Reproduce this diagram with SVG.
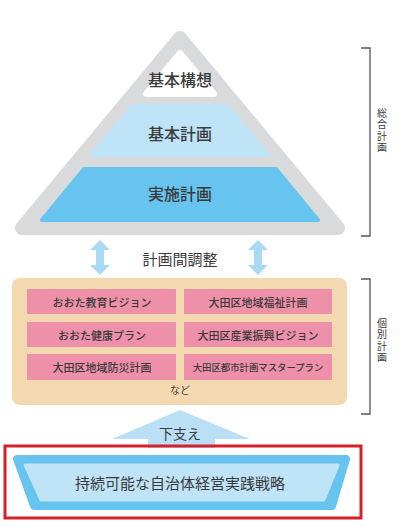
<svg xmlns="http://www.w3.org/2000/svg" width="400" height="527" viewBox="0 0 400 527">
<style>
text{font-family:"Noto Sans CJK JP","Noto Sans",sans-serif;fill:#3a3a3a;text-anchor:middle;dominant-baseline:central}
.lvl{font-size:16px;font-weight:500}
.pk{fill:#ef90aa}
.pt{font-size:11px;font-weight:500}
.brk{fill:none;stroke:#555;stroke-width:1.3}
.vt{font-size:10px;writing-mode:vertical-rl;letter-spacing:1.5px}
.dbl{fill:#a9d9f3}
</style>
<rect width="400" height="527" fill="#fff"/>
<g id="pyramid">
<polygon points="180,38 22,228 338,228" fill="#d9dadc" stroke="#d9dadc" stroke-width="14" stroke-linejoin="round"/>
</g>
<g id="kihon-kousou">
<polygon points="180,53 146,94 214,94" fill="#fff" stroke="#fff" stroke-width="6" stroke-linejoin="round"/>
<text class="lvl" x="180" y="79">基本構想</text>
</g>
<g id="kihon-keikaku">
<polygon points="133,106 227,106 268,155 92,155" fill="#bfe3f7" stroke="#bfe3f7" stroke-width="4" stroke-linejoin="round"/>
<text class="lvl" x="180" y="133">基本計画</text>
</g>
<g id="jisshi-keikaku">
<polygon points="84,169 276,169 318,220 42,220" fill="#66c4ee" stroke="#66c4ee" stroke-width="4" stroke-linejoin="round"/>
<text class="lvl" x="180" y="193">実施計画</text>
</g>
<g id="connectors">
<polygon class="dbl" points="100,240 110,250 104,250 104,265 110,265 100,275 90,265 96,265 96,250 90,250"/>
<polygon class="dbl" points="258,240 268,250 262,250 262,265 268,265 258,275 248,265 254,265 254,250 248,250"/>
<polygon points="180,410 250,439 215,439 215,448 148,448 148,439 112,439" fill="#b9e0f6"/>
</g>
<g id="chousei">
<text x="180" y="258" style="font-size:15px">計画間調整</text>
</g>
<g id="kobetsu">
<rect x="12" y="278" width="335" height="127" rx="8" fill="#f4d8b0"/>
<rect class="pk" x="27" y="289" width="149" height="25"/>
<rect class="pk" x="184" y="289" width="148" height="25"/>
<rect class="pk" x="27" y="322" width="149" height="25"/>
<rect class="pk" x="184" y="322" width="148" height="25"/>
<rect class="pk" x="27" y="354" width="149" height="26"/>
<rect class="pk" x="184" y="354" width="148" height="26"/>
<text class="pt" x="102" y="302">おおた教育ビジョン</text>
<text class="pt" x="258" y="302">大田区地域福祉計画</text>
<text class="pt" x="102" y="335">おおた健康プラン</text>
<text class="pt" x="258" y="335">大田区産業振興ビジョン</text>
<text class="pt" x="102" y="367">大田区地域防災計画</text>
<text x="258" y="367" style="font-size:9.4px;font-weight:500">大田区都市計画マスタープラン</text>
<text x="180" y="389" style="font-size:10px">など</text>
</g>
<g id="sasae">
<text x="180" y="433" style="font-size:14px">下支え</text>
</g>
<g id="senryaku">
<rect x="5" y="446" width="356" height="72" fill="none" stroke="#d6202a" stroke-width="3"/>
<polygon points="17,459 346,459 332,506 34,506" fill="#66c4ee" stroke="#66c4ee" stroke-width="8" stroke-linejoin="round"/>
<polygon points="25,465 338,465 324,500 41,500" fill="#bfe3f7" stroke="#bfe3f7" stroke-width="3" stroke-linejoin="round"/>
<text x="180" y="482" style="font-size:15px">持続可能な自治体経営実践戦略</text>
</g>
<g id="bracket-sougou">
<polyline class="brk" points="361,48 370,48 370,236 361,236"/>
<text class="vt" x="382" y="131">総合計画</text>
</g>
<g id="bracket-kobetsu">
<polyline class="brk" points="361,279 370,279 370,414 361,414"/>
<text class="vt" x="382" y="341">個別計画</text>
</g>
</svg>
